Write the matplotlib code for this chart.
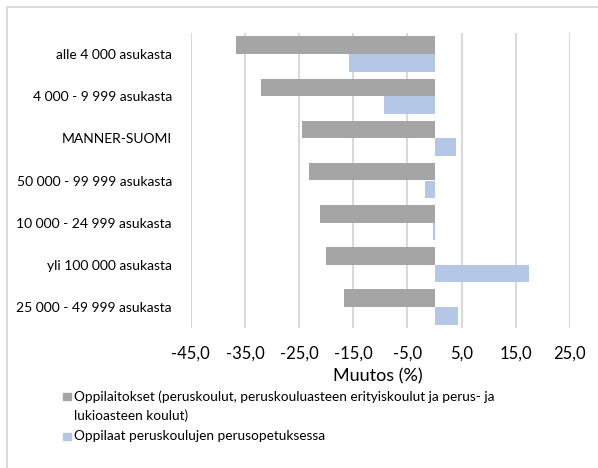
import matplotlib
matplotlib.use('Agg')
import matplotlib.pyplot as plt
import numpy as np
from matplotlib.patches import Rectangle

plt.rcParams['font.family'] = ['Lato', 'DejaVu Sans']

# ── data ──────────────────────────────────────────────
categories = [
    'alle 4 000 asukasta',
    '4 000 - 9 999 asukasta',
    'MANNER-SUOMI',
    '50 000 - 99 999 asukasta',
    '10 000 - 24 999 asukasta',
    'yli 100 000 asukasta',
    '25 000 - 49 999 asukasta',
]
oppilaitokset = [-36.6, -32.0, -24.5, -23.2, -21.1, -20.0, -16.7]
oppilaat = [-15.8, -9.3, 3.9, -1.7, -0.2, 17.4, 4.4]
xticks = [-45, -35, -25, -15, -5, 5, 15, 25]

label_1 = ('Oppilaitokset (peruskoulut, peruskouluasteen erityiskoulut ja perus- ja\n'
           'lukioasteen koulut)')
label_2 = 'Oppilaat peruskoulujen perusopetuksessa'

GRAY = '#A5A5A5'
BLUE = '#B4C7E7'
GRID = '#D9D9D9'

W, H = 598, 468

# ── figure ────────────────────────────────────────────
fig = plt.figure(figsize=(W / 100, H / 100), dpi=100)
fig.patch.set_facecolor('white')

# outer chart border
fig.patches.append(Rectangle((7 / W, -0.1), 1.2, 1 - 7 / H + 0.1,
                             transform=fig.transFigure, fill=False,
                             edgecolor=GRID, lw=1.3, zorder=0))

ax = fig.add_axes([190.7 / W, 1 - 328 / H, (570 - 190.7) / W, 295 / H])

y = np.arange(len(categories))
h = 0.42
ax.barh(y - h / 2, oppilaitokset, height=h, color=GRAY, zorder=3)
ax.barh(y + h / 2, oppilaat, height=h, color=BLUE, zorder=3)

ax.set_xlim(-45, 25)
ax.set_ylim(len(categories) - 0.5, -0.5)
ax.set_xticks(xticks)
ax.set_xticklabels([f'{t:.1f}'.replace('.', ',') for t in xticks], fontsize=12)
ax.set_yticks(y)
ax.set_yticklabels(categories, fontsize=10)
ax.tick_params(axis='both', length=0)
ax.tick_params(axis='y', pad=13.5)
ax.tick_params(axis='x', pad=13)
ax.xaxis.grid(True, color=GRID, lw=1.5, zorder=0)
ax.set_axisbelow(True)
for s in ax.spines.values():
    s.set_visible(False)

fig.text(378 / W, 1 - 376 / H, 'Muutos (%)', ha='center', va='center', fontsize=13)

# ── legend (drawn by hand so the key sits on the first text line) ──
def legend_entry(label, color, y_px):
    fig.patches.append(Rectangle((63.3 / W, 1 - (y_px + 3.5) / H), 7.3 / W, 7 / H,
                                 transform=fig.transFigure, color=color))
    for i, line in enumerate(label.split('\n')):
        fig.text(74 / W, 1 - (y_px + i * 19.5) / H, line,
                 ha='left', va='center', fontsize=9.8)

legend_entry(label_1, GRAY, 396.5)
legend_entry(label_2, BLUE, 436)

plt.savefig('out.png', dpi=100, facecolor='white')
